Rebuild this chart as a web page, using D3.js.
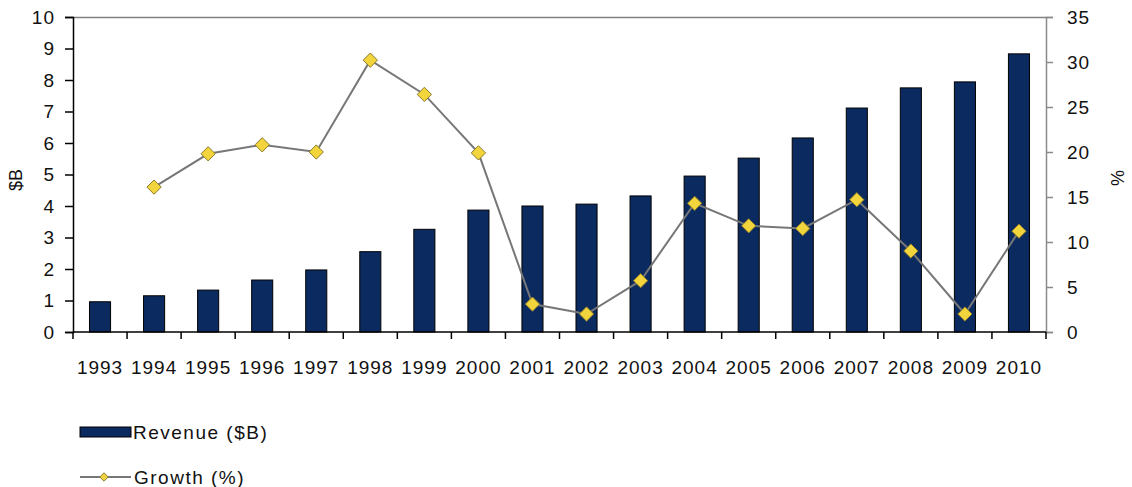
<!DOCTYPE html>
<html lang="en">
<head>
<meta charset="utf-8">
<title>Revenue and Growth</title>
<script src="https://d3js.org/d3.v7.min.js"></script>
<style>
  body { margin: 0; background: #fff; }
  svg text { font-family: "Liberation Sans", Arial, sans-serif; fill: #111; }
</style>
</head>
<body>
<div id="chart"></div>
<script>
// data
var years = ['1993','1994','1995','1996','1997','1998','1999','2000','2001',
             '2002','2003','2004','2005','2006','2007','2008','2009','2010'];
var revenue = [0.96, 1.15, 1.33, 1.65, 1.97, 2.55, 3.26, 3.87, 4.0,
               4.06, 4.32, 4.95, 5.52, 6.16, 7.11, 7.75, 7.94, 8.83];
var growth = [null, 16.1, 19.8, 20.8, 20.0, 30.2, 26.4, 19.9, 3.1,
              2.0, 5.7, 14.3, 11.8, 11.5, 14.7, 9.0, 2.0, 11.2];
var leftTicks = [0,1,2,3,4,5,6,7,8,9,10];
var rightTicks = [0,5,10,15,20,25,30,35];

var W = 1132, H = 487;
var margin = {top: 17, right: 86, bottom: 155, left: 73},
    width = W - margin.left - margin.right,
    height = H - margin.top - margin.bottom;

var svg = d3.select("#chart").append("svg")
    .attr("width", W).attr("height", H);
var g = svg.append("g")
    .attr("transform", "translate(" + margin.left + "," + margin.top + ")");

var x = d3.scaleBand().domain(years).range([0, width]).paddingInner(0.61).paddingOuter(0.305);
var xb = d3.scaleBand().domain(years).range([0, width]);
var yL = d3.scaleLinear().domain([0, 10]).range([height, 0]);
var yR = d3.scaleLinear().domain([0, 35]).range([height, 0]);

// top border
g.append("line").attr("x1", 0).attr("x2", width).attr("y1", 0.5).attr("y2", 0.5)
  .attr("stroke", "#808080").attr("stroke-width", 1.5);

// bars
g.selectAll(".bar").data(revenue).enter().append("rect")
  .attr("x", function(d, i) { return x(years[i]); })
  .attr("width", x.bandwidth())
  .attr("y", function(d) { return yL(d); })
  .attr("height", function(d) { return height - yL(d); })
  .attr("fill", "#0b2a60")
  .attr("stroke", "#000").attr("stroke-width", 1);

// left axis
var axL = g.append("g")
  .call(d3.axisLeft(yL).tickValues(leftTicks).tickSize(8).tickPadding(10).tickFormat(d3.format("d")));
axL.select(".domain").attr("stroke", "#000").attr("stroke-width", 1.5);
axL.selectAll(".tick line").attr("stroke", "#000").attr("stroke-width", 1.5);
axL.selectAll("text").style("font-size", "19px").style("letter-spacing", "1px").attr("fill", "#111");

// right axis
var axR = g.append("g").attr("transform", "translate(" + width + ",0)")
  .call(d3.axisRight(yR).tickValues(rightTicks).tickSize(7).tickPadding(14));
axR.select(".domain").attr("stroke", "#8a8a8a").attr("stroke-width", 1.5);
axR.selectAll(".tick line").attr("stroke", "#8a8a8a").attr("stroke-width", 1.5);
axR.selectAll("text").style("font-size", "19px").style("letter-spacing", "1px").attr("fill", "#111");

// bottom axis with ticks at category boundaries
g.append("line").attr("x1", 0).attr("x2", width).attr("y1", height).attr("y2", height)
  .attr("stroke", "#000").attr("stroke-width", 1.5);
var bounds = years.map(function(d) { return xb(d); }).concat([width]);
g.selectAll(".xt").data(bounds).enter().append("line")
  .attr("x1", function(d) { return d; }).attr("x2", function(d) { return d; })
  .attr("y1", height).attr("y2", height + 7)
  .attr("stroke", "#000").attr("stroke-width", 1.5);
g.selectAll(".xl").data(years).enter().append("text")
  .attr("x", function(d) { return xb(d) + xb.bandwidth() / 2; })
  .attr("y", height + 42)
  .attr("text-anchor", "middle")
  .style("font-size", "19px").style("letter-spacing", "1px")
  .text(function(d) { return d; });

// axis titles
svg.append("text").attr("transform", "translate(22,180) rotate(-90)")
  .attr("text-anchor", "middle").style("font-size", "18px").text("$B");
svg.append("text").attr("transform", "translate(1111,178) rotate(90)")
  .attr("text-anchor", "middle").style("font-size", "18px").text("%");

// growth line
var pts = growth.map(function(v, i) { return {year: years[i], v: v}; })
  .filter(function(d) { return d.v !== null; });
var line = d3.line()
  .x(function(d) { return xb(d.year) + xb.bandwidth() / 2; })
  .y(function(d) { return yR(d.v); });
g.append("path").datum(pts).attr("d", line)
  .attr("fill", "none").attr("stroke", "#777").attr("stroke-width", 2);

var diamond = d3.symbol().type(d3.symbolDiamond2).size(130);
g.selectAll(".mk").data(pts).enter().append("path")
  .attr("d", diamond)
  .attr("transform", function(d) {
    return "translate(" + (xb(d.year) + xb.bandwidth() / 2) + "," + yR(d.v) + ")";
  })
  .attr("fill", "#f2d53c").attr("stroke", "#8a7a2a").attr("stroke-width", 1);

// legend
var lg = svg.append("g");
lg.append("rect").attr("x", 80).attr("y", 427).attr("width", 51).attr("height", 10)
  .attr("fill", "#0b2a60").attr("stroke", "#000").attr("stroke-width", 1);
lg.append("text").attr("x", 133).attr("y", 439).style("font-size", "19px")
  .style("letter-spacing", "1.5px").text("Revenue ($B)");
lg.append("line").attr("x1", 80).attr("x2", 131).attr("y1", 477).attr("y2", 477)
  .attr("stroke", "#777").attr("stroke-width", 2);
lg.append("path").attr("d", d3.symbol().type(d3.symbolDiamond2).size(45))
  .attr("transform", "translate(104,477)")
  .attr("fill", "#f2d53c").attr("stroke", "#8a7a2a").attr("stroke-width", 1);
lg.append("text").attr("x", 134).attr("y", 484).style("font-size", "19px")
  .style("letter-spacing", "1.5px").text("Growth (%)");
</script>
</body>
</html>
